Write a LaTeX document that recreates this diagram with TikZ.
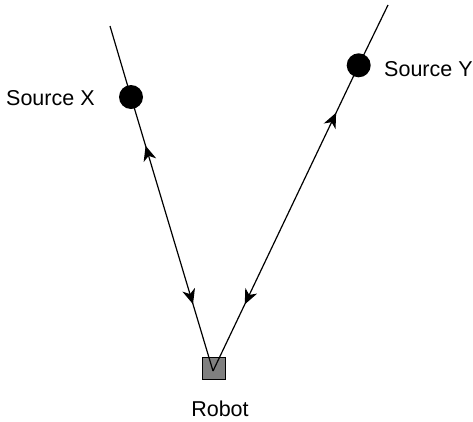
\documentclass[tikz,border=0pt]{standalone}
\usepackage{fontspec}
\setmainfont{Liberation Sans}
\usetikzlibrary{arrows.meta,decorations.markings}
\tikzset{rtip/.tip={Stealth[length=15pt,width=13pt,inset=4.5pt]}}
\begin{document}
\begin{tikzpicture}[x=1pt,y=-1pt,
  lbl/.style={inner sep=0pt,font=\fontsize{21.5}{25}\selectfont},
  src/.style={circle,fill=black,minimum size=24pt,inner sep=0pt},
  robotbox/.style={draw=black,line width=0.8pt,fill=black!50,minimum width=23pt,minimum height=22pt,inner sep=0pt},
  ray/.style={line width=1.2pt}
]
\useasboundingbox (0,0) rectangle (473,421);
\node[robotbox] (robot) at (214,368.5) {};
\coordinate (rc) at (213,371);
\coordinate (topx) at (110,26);
\coordinate (topy) at (388,5);
\coordinate (sxc) at (131,97);
\coordinate (syc) at (358.7,65.3);
% rays
\draw[ray] (topx) -- (sxc);
\draw[ray] (topy) -- (syc);
\draw[ray,postaction={decorate},decoration={markings,
  mark=at position 0.822 with {\arrow{rtip}},
  mark=at position 0.244 with {\arrowreversed{rtip}}}] (rc) -- (sxc);
\draw[ray,postaction={decorate},decoration={markings,
  mark=at position 0.845 with {\arrow{rtip}},
  mark=at position 0.218 with {\arrowreversed{rtip}}}] (rc) -- (syc);
\node[src] (sx) at (sxc) {};
\node[src] (sy) at (syc) {};
\node[lbl,anchor=base west] (lx) at (6,105.7) {Source X};
\node[lbl,anchor=base west] (ly) at (384,76) {Source Y};
\node[lbl,anchor=base] (lr) at (220,416) {Robot};
\end{tikzpicture}
\end{document}
